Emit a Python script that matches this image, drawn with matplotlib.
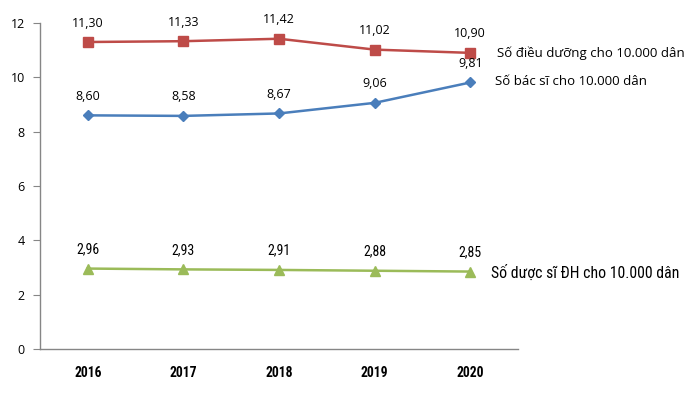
import matplotlib
matplotlib.use("Agg")
import matplotlib.pyplot as plt
from matplotlib import font_manager

years = ["2016", "2017", "2018", "2019", "2020"]
dieu_duong = [11.30, 11.33, 11.42, 11.02, 10.90]
bac_si = [8.60, 8.58, 8.67, 9.06, 9.81]
duoc_si = [2.96, 2.93, 2.91, 2.88, 2.85]
names = ["Số điều dưỡng cho 10.000 dân", "Số bác sĩ cho 10.000 dân", "Số dược sĩ ĐH cho 10.000 dân"]
yticks = [0, 2, 4, 6, 8, 10, 12]

plt.rcParams['font.family'] = ['Open Sans', 'DejaVu Sans']

avail = {f.name for f in font_manager.fontManager.ttflist}
narrow_pref = ['Roboto Condensed', 'Open Sans Condensed', 'Barlow Semi Condensed',
               'Asap Condensed', 'Barlow Condensed', 'Liberation Sans Narrow']
narrow_name = next((n for n in narrow_pref if n in avail), 'DejaVu Sans')
narrow = [narrow_name, 'DejaVu Sans']
regular = ['Open Sans', 'DejaVu Sans']

fig = plt.figure(figsize=(7, 3.95), dpi=100)
ax = fig.add_axes([0.0571, 0.1165, 0.683, 0.8253])

x = list(range(len(years)))
series = [
    (dieu_duong, "#BE4B48", "s", 7),
    (bac_si, "#4A7EBB", "D", 5.5),
    (duoc_si, "#9BBB59", "^", 7),
]
label_offsets = [(19, 0), (18, 1), (15, -1)]
label_fams = [regular, regular, narrow]
label_sizes = [9.5, 9.5, 11.3]
value_fams = [regular, regular, narrow]
value_sizes = [9, 9, 10]
for (vals, col, mk, ms), name, off, fam, fs, vf, vs in zip(
        series, names, label_offsets, label_fams, label_sizes, value_fams, value_sizes):
    ax.plot(x, vals, color=col, marker=mk, markersize=ms, linewidth=1.8, zorder=3)
    for xi, v in zip(x, vals):
        ax.annotate(f"{v:.2f}".replace(".", ","), (xi, v), xytext=(0, 9),
                    textcoords="offset points", ha="center", va="bottom",
                    fontsize=vs, color="#000000", family=vf)
    ax.annotate(name, (x[-1], vals[-1]), xytext=off, textcoords="offset points",
                ha="left", va="center", fontsize=fs, color="#000000",
                family=fam, annotation_clip=False)

ax.set_xlim(-0.5, len(years) - 0.5)
ax.set_ylim(0, 12)
ax.set_yticks(yticks)
ax.set_yticklabels([str(t) for t in yticks], fontsize=9)
ax.set_xticks(x)
ax.set_xticklabels(years, fontsize=9.8, fontweight="bold", family=narrow)
ax.tick_params(axis="x", length=0, pad=12)
ax.tick_params(axis="y", length=5, color="#868686", pad=6)
for s in ["top", "right"]:
    ax.spines[s].set_visible(False)
for s in ["left", "bottom"]:
    ax.spines[s].set_color("#868686")
    ax.spines[s].set_linewidth(1)

fig.savefig("out.png", dpi=100)
